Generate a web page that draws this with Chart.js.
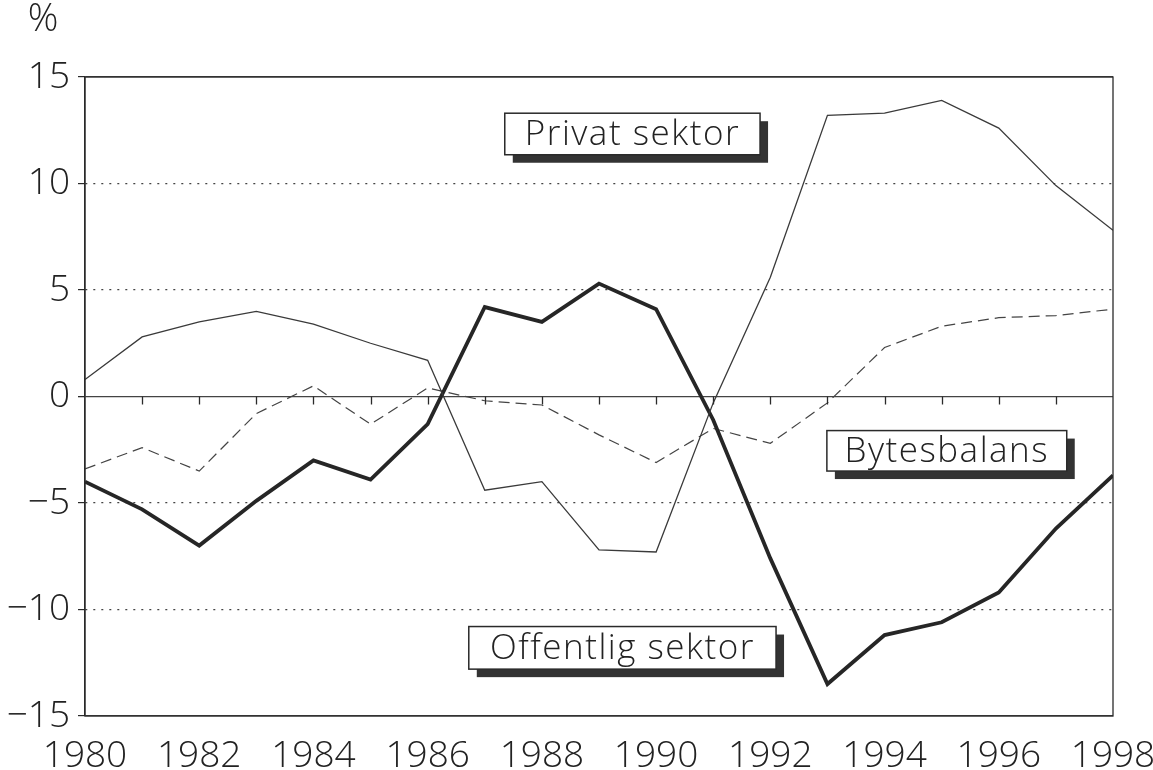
<!DOCTYPE html>
<html>
<head>
<meta charset="utf-8">
<script src="https://cdn.jsdelivr.net/npm/chart.js@4.4.1/dist/chart.umd.min.js"></script>
<style>
  html, body { margin: 0; padding: 0; background: #fff; }
  #wrap { width: 1153px; height: 770px; }
</style>
</head>
<body>
<div id="wrap"><canvas id="saldoChart"></canvas></div>
<script>
// years on the x axis
const years = [1980, 1981, 1982, 1983, 1984, 1985, 1986, 1987, 1988, 1989,
               1990, 1991, 1992, 1993, 1994, 1995, 1996, 1997, 1998]

// finansiellt sparande, % av BNP
const privatSektor = [0.8, 2.8, 3.5, 4.0, 3.4, 2.5, 1.7, -4.4, -4.0, -7.2,
                      -7.3, -0.3, 5.6, 13.2, 13.3, 13.9, 12.6, 9.9, 7.8]
const offentligSektor = [-4.0, -5.3, -7.0, -4.9, -3.0, -3.9, -1.3, 4.2, 3.5, 5.3,
                         4.1, -1.1, -7.6, -13.5, -11.2, -10.6, -9.2, -6.2, -3.7]
const bytesbalans = [-3.4, -2.4, -3.5, -0.8, 0.5, -1.3, 0.4, -0.2, -0.4, -1.8,
                     -3.1, -1.5, -2.2, -0.3, 2.3, 3.3, 3.7, 3.8, 4.1]

const yTicks = [-15, -10, -5, 0, 5, 10, 15]
const xTickYears = [1980, 1982, 1984, 1986, 1988, 1990, 1992, 1994, 1996, 1998]

// label boxes, corners given in axis units
const labelBoxes = [
    { text: 'Privat sektor', x0: 1987.35, x1: 1991.82, y0: 13.3, y1: 11.35 },
    { text: 'Bytesbalans', x0: 1992.99, x1: 1997.19, y0: -1.6, y1: -3.5 },
    { text: 'Offentlig sektor', x0: 1986.72, x1: 1992.1, y0: -10.8, y1: -12.8 }
]

const fontFamily = '"Open Sans", "DejaVu Sans", sans-serif'
const ink = '#2a2a2a'

const toPoints = (vals) => years.map((y, i) => ({ x: y, y: vals[i] }))

// frame, year ticks on the zero line, label boxes, % sign
const decorations = {
    id: 'decorations',
    afterDatasetsDraw(chart) {
        const ctx = chart.ctx
        const xs = chart.scales.x
        const ys = chart.scales.y
        const area = chart.chartArea
        ctx.save()
        ctx.strokeStyle = ink
        ctx.lineWidth = 1.3
        ctx.strokeRect(area.left, area.top, area.right - area.left, area.bottom - area.top)

        const zero = ys.getPixelForValue(0)
        ctx.beginPath()
        years.forEach(y => {
            if (y === years[0] || y === years[years.length - 1]) return
            const px = Math.round(xs.getPixelForValue(y)) + 0.5
            ctx.moveTo(px, zero)
            ctx.lineTo(px, zero + 8)
        })
        ctx.stroke()

        labelBoxes.forEach(b => {
            const l = xs.getPixelForValue(b.x0)
            const r = xs.getPixelForValue(b.x1)
            const t = ys.getPixelForValue(b.y0)
            const btm = ys.getPixelForValue(b.y1)
            ctx.fillStyle = '#333'
            ctx.fillRect(l + 8, t + 8, r - l, btm - t)
            ctx.fillStyle = '#fff'
            ctx.fillRect(l, t, r - l, btm - t)
            ctx.lineWidth = 1.5
            ctx.strokeStyle = ink
            ctx.strokeRect(l, t, r - l, btm - t)
            ctx.fillStyle = '#222'
            ctx.font = '300 35px ' + fontFamily
            ctx.letterSpacing = '1.5px'
            ctx.textAlign = 'center'
            ctx.textBaseline = 'middle'
            ctx.fillText(b.text, (l + r) / 2, (t + btm) / 2 + 1)
        })

        ctx.letterSpacing = '0px'
        ctx.font = '300 38px ' + fontFamily
        ctx.fillStyle = '#222'
        ctx.textAlign = 'center'
        ctx.textBaseline = 'middle'
        ctx.fillText('%', 43, 20)
        ctx.restore()
    }
}

const ctx = document.getElementById('saldoChart').getContext('2d')
const myChart = new Chart(ctx, {
    type: 'line',
    data: {
        datasets: [{
            label: 'Privat sektor',
            data: toPoints(privatSektor),
            borderColor: '#3a3a3a',
            borderWidth: 1.3,
            pointRadius: 0,
            tension: 0
        }, {
            label: 'Offentlig sektor',
            data: toPoints(offentligSektor),
            borderColor: '#262626',
            borderWidth: 3.8,
            pointRadius: 0,
            tension: 0
        }, {
            label: 'Bytesbalans',
            data: toPoints(bytesbalans),
            borderColor: '#444',
            borderWidth: 1.2,
            borderDash: [11, 6],
            pointRadius: 0,
            tension: 0
        }]
    },
    options: {
        responsive: true,
        maintainAspectRatio: false,
        animation: false,
        events: [],
        plugins: {
            legend: { display: false },
            tooltip: { enabled: false }
        },
        layout: {
            padding: { top: 77, left: 0, right: 40, bottom: 0 }
        },
        scales: {
            x: {
                type: 'linear',
                min: 1980,
                max: 1998,
                afterBuildTicks: (scale) => {
                    scale.ticks = xTickYears.map(v => ({ value: v }))
                },
                afterFit: (scale) => {
                    scale.height = 54
                    scale.paddingLeft = 0
                    scale.paddingRight = 0
                },
                grid: { display: false },
                border: { display: false },
                ticks: {
                    maxRotation: 0,
                    autoSkip: false,
                    padding: 10,
                    color: '#222',
                    font: { family: fontFamily, size: 37, weight: '300' },
                    callback: (v) => String(v)
                }
            },
            y: {
                min: -15,
                max: 15,
                afterBuildTicks: (scale) => {
                    scale.ticks = yTicks.map(v => ({ value: v }))
                },
                afterFit: (scale) => {
                    scale.width = 85
                    scale.paddingTop = 0
                    scale.paddingBottom = 0
                },
                grid: {
                    color: '#444',
                    lineWidth: (c) => (c.tick && c.tick.value === 0 ? 1.3 : 1.2),
                    tickLength: 7,
                    tickColor: ink
                },
                border: {
                    display: true,
                    color: ink,
                    width: 1.3,
                    dash: (c) => (c.tick && Math.abs(c.tick.value) % 15 !== 0 ? [2, 6] : [])
                },
                ticks: {
                    padding: 8,
                    color: '#222',
                    font: { family: fontFamily, size: 37, weight: '300' },
                    callback: (v) => (v < 0 ? '\u2212' + Math.abs(v) : String(v))
                }
            }
        }
    },
    plugins: [decorations]
});
</script>
</body>
</html>
